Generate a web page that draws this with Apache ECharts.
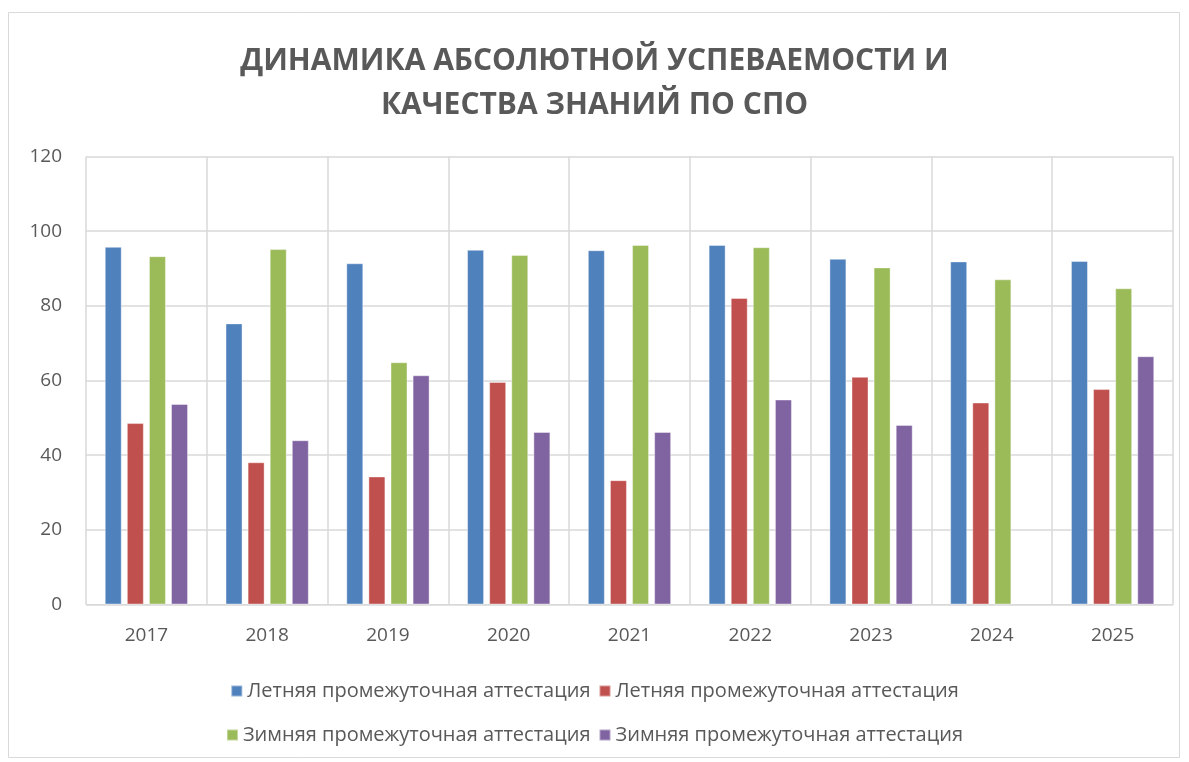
<!DOCTYPE html>
<html>
<head>
<meta charset="utf-8">
<script src="https://cdn.jsdelivr.net/npm/echarts@6/dist/echarts.min.js"></script>
<style>
  html, body { margin: 0; padding: 0; background: #fff; }
  #main { width: 1189px; height: 762px; }
</style>
</head>
<body>
<div id="main"></div>
<script>
  // годы
  const years = ['2017', '2018', '2019', '2020', '2021', '2022', '2023', '2024', '2025'];
  // подписи легенды (в оригинале имена повторяются)
  const seriesLabels = [
    'Летняя промежуточная аттестация',
    'Летняя промежуточная аттестация',
    'Зимняя промежуточная аттестация',
    'Зимняя промежуточная аттестация'
  ];
  const seriesKeys = ['s1', 's2', 's3', 's4'];
  const summerAbs = [95.8, 75.3, 91.4, 95.0, 94.9, 96.3, 92.6, 91.9, 92.0];
  const summerQual = [48.6, 38.1, 34.3, 59.6, 33.3, 82.1, 61.0, 54.1, 57.7];
  const winterAbs = [93.3, 95.2, 64.9, 93.6, 96.3, 95.7, 90.3, 87.1, 84.7];
  const winterQual = [53.7, 44.0, 61.4, 46.2, 46.2, 54.9, 48.1, null, 66.5];
  const yTicks = { min: 0, max: 120, step: 20 };

  const colors = ['#4f81bd', '#c0504d', '#9bbb59', '#8064a2'];
  const values = [summerAbs, summerQual, winterAbs, winterQual];

  const chart = echarts.init(document.getElementById('main'));

  const labelOf = function (key) {
    return seriesLabels[seriesKeys.indexOf(key)];
  };

  const legendBase = {
    left: 'center',
    itemWidth: 11,
    itemHeight: 11,
    itemGap: 8,
    icon: 'rect',
    selectedMode: false,
    formatter: labelOf,
    textStyle: { color: '#595959', fontSize: 20, fontFamily: 'Open Sans' }
  };

  chart.setOption({
    color: colors,
    animation: false,
    graphic: [{
      type: 'rect',
      shape: { x: 8.5, y: 12.5, width: 1171, height: 745 },
      style: { fill: 'none', stroke: '#d9d9d9', lineWidth: 1 },
      silent: true
    }],
    title: {
      text: 'ДИНАМИКА АБСОЛЮТНОЙ УСПЕВАЕМОСТИ И\nКАЧЕСТВА ЗНАНИЙ ПО СПО',
      left: 'center',
      top: 34,
      textStyle: {
        color: '#595959',
        fontSize: 30,
        fontWeight: 'bold',
        fontFamily: 'Open Sans',
        lineHeight: 44,
        letterSpacing: 2
      }
    },
    legend: [
      Object.assign({}, legendBase, { top: 676, data: seriesKeys.slice(0, 2) }),
      Object.assign({}, legendBase, { top: 720, data: seriesKeys.slice(2, 4) })
    ],
    grid: { left: 86, right: 16, top: 156.5, bottom: 157.5 },
    xAxis: {
      type: 'category',
      data: years,
      axisTick: { show: false },
      axisLine: { lineStyle: { color: '#d9d9d9', width: 1 } },
      splitLine: { show: true, lineStyle: { color: '#d9d9d9', width: 1.5 } },
      axisLabel: { color: '#595959', fontSize: 19, fontFamily: 'Open Sans', margin: 22 }
    },
    yAxis: {
      type: 'value',
      min: yTicks.min,
      max: yTicks.max,
      interval: yTicks.step,
      axisLine: { show: false },
      axisTick: { show: false },
      splitLine: { lineStyle: { color: '#d9d9d9', width: 1.5 } },
      axisLabel: { color: '#595959', fontSize: 19, fontFamily: 'Open Sans', margin: 24 }
    },
    series: seriesKeys.map(function (key, i) {
      return {
        name: key,
        type: 'bar',
        data: values[i],
        barWidth: 17,
        barGap: '30%',
        itemStyle: { borderColor: 'rgba(255,255,255,0.4)', borderWidth: 1 }
      };
    })
  });
</script>
</body>
</html>
